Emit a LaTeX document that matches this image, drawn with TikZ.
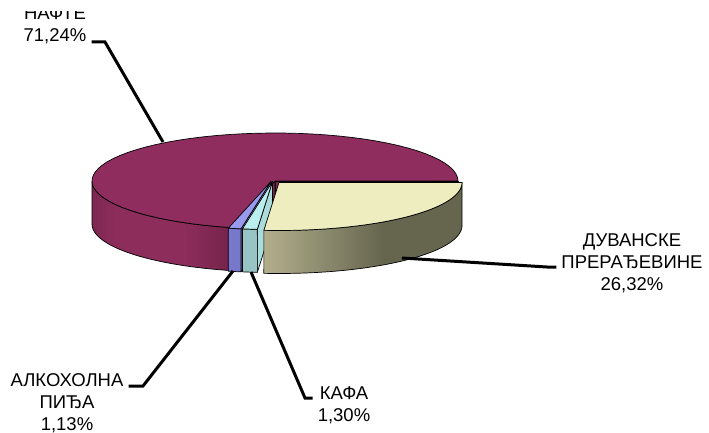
\documentclass[tikz,border=0pt]{standalone}
\usepackage{fontspec}
\setmainfont{Liberation Sans}
\usetikzlibrary{calc}
\definecolor{mTop}{HTML}{8E2D5E}
\definecolor{mSideE}{HTML}{7E2752}
\definecolor{mSideL}{HTML}{8C2D5C}
\definecolor{mSideR}{HTML}{74234A}
\definecolor{mFace}{HTML}{7A2650}
\definecolor{bTop}{HTML}{9999EE}
\definecolor{bFront}{HTML}{7777CC}
\definecolor{bFace}{HTML}{8888DD}
\definecolor{cTop}{HTML}{BBEEEE}
\definecolor{cFront}{HTML}{99C4C4}
\definecolor{cFace}{HTML}{AADCDC}
\definecolor{yTop}{HTML}{EEEDBF}
\definecolor{ySideL}{HTML}{B3AF8D}
\definecolor{ySideD}{HTML}{66664F}
\pgfdeclarehorizontalshading{yside}{100bp}{color(0bp)=(ySideL); color(25bp)=(ySideL); color(55bp)=(ySideD); color(100bp)=(ySideD)}
\pgfdeclarehorizontalshading{mside}{100bp}{color(0bp)=(mSideE); color(25bp)=(mSideE); color(33bp)=(mSideL); color(58bp)=(mSideL); color(75bp)=(mSideR); color(100bp)=(mSideR)}
\def\pcx{275}\def\pcy{181}\def\prx{183}\def\pry{48}\def\pdep{43}
\newcommand\pieTop[5]{\path[#5] ({\pcx+(#1)},{\pcy+(#2)}) -- plot[domain=#3:#4,samples=60] ({\pcx+(#1)+\prx*cos(\x)},{\pcy+(#2)+\pry*sin(\x)}) -- cycle;}
\newcommand\pieSide[5]{\path[#5] plot[domain=#3:#4,samples=50] ({\pcx+(#1)+\prx*cos(\x)},{\pcy+(#2)+\pry*sin(\x)}) -- plot[domain=#4:#3,samples=50] ({\pcx+(#1)+\prx*cos(\x)},{\pcy+(#2)+\pdep+\pry*sin(\x)}) -- cycle;}
\newcommand\pieFace[4]{\path[#4] ({\pcx+(#1)},{\pcy+(#2)}) -- ({\pcx+(#1)+\prx*cos(#3)},{\pcy+(#2)+\pry*sin(#3)}) -- ++(0,\pdep) -- ({\pcx+(#1)},{\pcy+(#2)+\pdep}) -- cycle;}
\tikzset{
  edge/.style={draw=black,line width=0.7pt,line join=round},
  lbl/.style={font=\fontsize{18.5}{22}\selectfont,align=center,inner xsep=5pt,inner ysep=0pt},
  leader/.style={draw=black,line width=3pt,line join=miter}
}
\begin{document}
\begin{tikzpicture}[x=1pt,y=-1pt]
\useasboundingbox (0,0) rectangle (709,433);
% maroon slice
\pieFace{0}{0}{0}{edge,fill=mFace}
\pieFace{0}{0}{103.5}{edge,fill=mFace}
\pieSide{0}{0}{103.5}{180}{edge,shade,shading=mside}
\pieTop{0}{0}{103.5}{360}{edge,fill=mTop}
% blue slice
\pieFace{-4}{0.5}{99.43}{edge,fill=bFace}
\pieSide{-4}{0.5}{99.43}{103.5}{edge,fill=bFront}
\pieTop{-4}{0.5}{99.43}{103.5}{edge,fill=bTop}
% cyan slice
\pieFace{-2.5}{0.5}{94.75}{edge,fill=cFace}
\pieSide{-2.5}{0.5}{94.75}{99.43}{edge,fill=cFront}
\pieTop{-2.5}{0.5}{94.75}{99.43}{edge,fill=cTop}
% yellow slice
\pieSide{4}{1.5}{0}{94.75}{edge,shade,shading=yside}
\pieTop{4}{1.5}{0}{94.75}{edge,fill=yTop}
% labels
\begin{scope}
\clip (0,11.5) rectangle (709,433);
\node[lbl] (nafte) at (55,25.5) {НАФТЕ\\71,24\%};
\end{scope}
\node[lbl] (duv) at (632,263) {ДУВАНСКЕ\\ПРЕРАЂЕВИНЕ\\26,32\%};
\node[lbl] (alk) at (67,403) {АЛКОХОЛНА\\ПИЂА\\1,13\%};
\node[lbl] (kafa) at (344,405.5) {КАФА\\1,30\%};
% leaders
\coordinate (pNafte) at (163,142); \coordinate (kNafte) at (105,42);
\draw[leader] (pNafte) -- (kNafte) -- (kNafte -| nafte.east);
\coordinate (pDuv) at (402,258); \coordinate (kDuv) at (547,267);
\draw[leader] (pDuv) -- (kDuv) -- (kDuv -| duv.west);
\coordinate (pAlk) at (233,271); \coordinate (kAlk) at (143,386);
\draw[leader] (pAlk) -- (kAlk) -- (kAlk -| alk.east);
\coordinate (pKafa) at (251,272); \coordinate (kKafa) at (305,398);
\draw[leader] (pKafa) -- (kKafa) -- (kKafa -| kafa.west);
\end{tikzpicture}
\end{document}
